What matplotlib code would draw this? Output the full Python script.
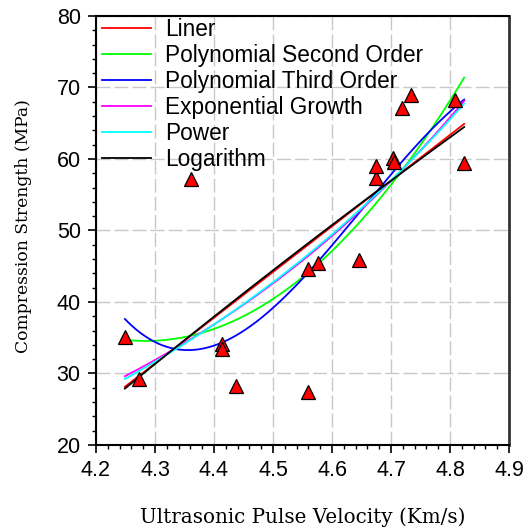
import matplotlib
matplotlib.use('Agg')
import matplotlib.pyplot as plt
import numpy as np
from matplotlib.ticker import MultipleLocator

# measured points (upv, strength)
upv = [4.249, 4.273, 4.361, 4.413, 4.413, 4.438, 4.560, 4.560, 4.576, 4.645,
       4.675, 4.675, 4.704, 4.705, 4.719, 4.734, 4.809, 4.824]
strength = [35.1, 29.2, 57.2, 34.1, 33.4, 28.3, 27.4, 44.6, 45.4, 45.9,
            57.4, 59.0, 60.1, 59.6, 67.2, 69.0, 68.3, 59.5]

fit_names = ['Liner', 'Polynomial Second Order', 'Polynomial Third Order',
             'Exponential Growth', 'Power', 'Logarithm']
fit_colors = ['red', '#00ff00', 'blue', 'magenta', 'cyan', 'black']

x = np.array(upv)
y = np.array(strength)
xx = np.linspace(x.min(), x.max(), 200)


def fit_scale(f_of_b, bs):
    # y = a*f(x, b), least squares on y (a solved directly for each b)
    best = None
    for b in bs:
        f = f_of_b(x, b)
        a = np.sum(y * f) / np.sum(f * f)
        sse = np.sum((y - a * f) ** 2)
        if best is None or sse < best[0]:
            best = (sse, a, b)
    return best[1], best[2]


p1 = np.polyfit(x, y, 1)
p2 = np.polyfit(x, y, 2)
p3 = np.polyfit(x, y, 3)
ae, be = fit_scale(lambda t, b: np.exp(b * t), np.linspace(0.5, 6, 2000))
ap, bp = fit_scale(lambda t, b: t ** b, np.linspace(1, 25, 2000))
pl = np.polyfit(np.log(x), y, 1)
curves = [np.polyval(p1, xx),
          np.polyval(p2, xx),
          np.polyval(p3, xx),
          ae * np.exp(be * xx),
          ap * xx ** bp,
          np.polyval(pl, np.log(xx))]

fig = plt.figure(figsize=(5.26, 5.28), dpi=100)
ax = fig.add_axes([0.1825, 0.1572, 0.7852, 0.8125])

ax.grid(True, which='major', color='#c8c8c8', linestyle=(0, (10, 3)), linewidth=1)
ax.set_axisbelow(True)

for c, name, col in zip(curves, fit_names, fit_colors):
    ax.plot(xx, c, color=col, lw=1.3, label=name)

ax.plot(x, y, linestyle='none', marker='^', markersize=10, markerfacecolor='red',
        markeredgecolor='black', markeredgewidth=0.9, zorder=5)

ax.set_xlim(4.2, 4.9)
ax.set_ylim(20, 80)
ax.xaxis.set_major_locator(MultipleLocator(0.1))
ax.xaxis.set_minor_locator(MultipleLocator(0.02))
ax.yaxis.set_major_locator(MultipleLocator(10))
ax.yaxis.set_minor_locator(MultipleLocator(2))
ax.tick_params(which='major', direction='out', length=6, width=1.2, labelsize=15.5, pad=5)
ax.tick_params(which='minor', direction='out', length=3, width=1)
for lab in ax.get_xticklabels() + ax.get_yticklabels():
    lab.set_family('Liberation Sans')
for s in ax.spines.values():
    s.set_linewidth(1.5)
ax.spines['right'].set_color('#333333')
ax.spines['right'].set_linewidth(2)

ax.set_xlabel('Ultrasonic Pulse Velocity (Km/s)', family='DejaVu Serif', fontsize=14.3, labelpad=19)
ax.set_ylabel('Compression Strength (MPa)', family='DejaVu Serif', fontsize=12.3, labelpad=10)
ax.yaxis.set_label_coords(-0.155, 0.51)

leg = ax.legend(loc='upper left', bbox_to_anchor=(0.008, 1.0), frameon=False,
                prop={'family': 'Liberation Sans', 'size': 16.3},
                handlelength=2.2, handletextpad=0.6, labelspacing=0.13,
                borderaxespad=0.1, borderpad=0.0)

fig.savefig('out.png', dpi=100)
